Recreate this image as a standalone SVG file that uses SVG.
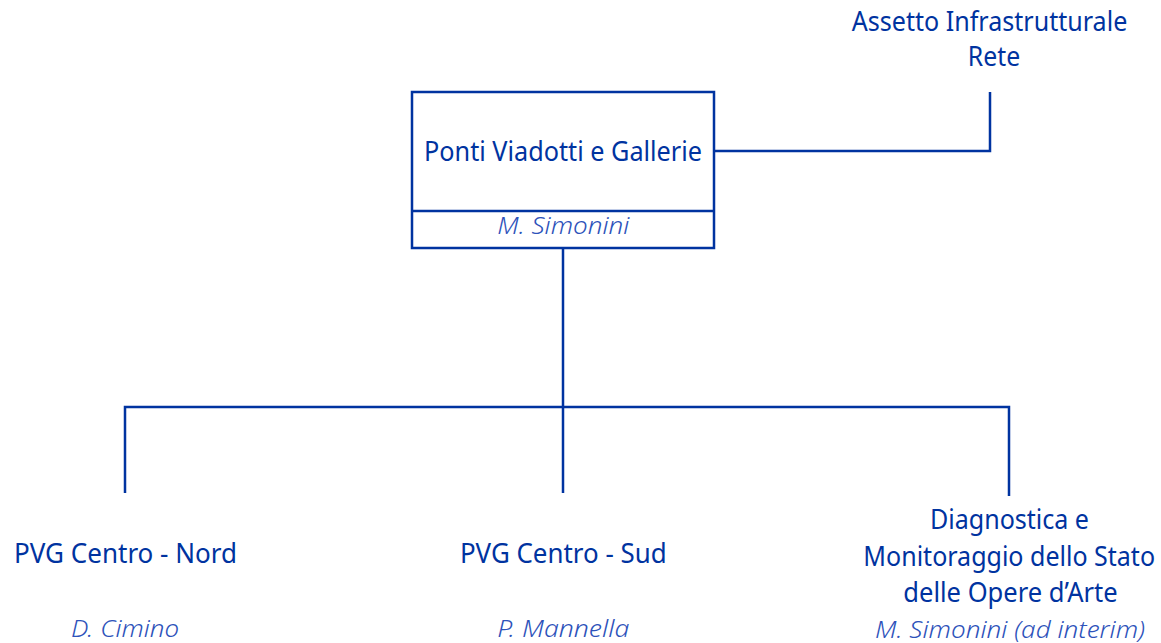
<svg xmlns="http://www.w3.org/2000/svg" width="1161" height="643" viewBox="0 0 1161 643">
<style>
.t{font-family:"Noto Sans","Open Sans","Liberation Sans",sans-serif;font-size:27px;fill:#0033a0;text-anchor:middle}
.n{font-family:"Noto Sans","Open Sans","Liberation Sans",sans-serif;font-size:24px;font-style:italic;font-weight:300;fill:#2d52ba;text-anchor:middle}
.l{fill:none;stroke:#0033a0;stroke-width:2.5}
</style>
<rect width="1161" height="643" fill="#fff"/>
<g id="connectors">
<path class="l" d="M714,151 H990 V92"/>
<path class="l" d="M563,248 V407"/>
<path class="l" d="M125,493 V407 H1009 V496"/>
<path class="l" d="M563,407 V493"/>
</g>
<g id="node-pvg">
<rect class="l" x="412" y="92" width="302" height="156"/>
<line class="l" x1="412" y1="211" x2="714" y2="211"/>
<text class="t" x="563" y="161" textLength="278" lengthAdjust="spacingAndGlyphs">Ponti Viadotti e Gallerie</text>
<text class="n" x="563.3" y="234.3" textLength="132" lengthAdjust="spacingAndGlyphs">M. Simonini</text>
</g>
<g id="node-air">
<text class="t" x="989.5" y="30.7" textLength="275.6" lengthAdjust="spacingAndGlyphs">Assetto Infrastrutturale</text>
<text class="t" x="994" y="65.7" textLength="52.3" lengthAdjust="spacingAndGlyphs">Rete</text>
</g>
<g id="node-nord">
<text class="t" x="125.5" y="562.7" textLength="223" lengthAdjust="spacingAndGlyphs">PVG Centro - Nord</text>
<text class="n" x="125" y="637" textLength="108" lengthAdjust="spacingAndGlyphs">D. Cimino</text>
</g>
<g id="node-sud">
<text class="t" x="563.3" y="562.7" textLength="206.7" lengthAdjust="spacingAndGlyphs">PVG Centro - Sud</text>
<text class="n" x="563.3" y="637" textLength="132" lengthAdjust="spacingAndGlyphs">P. Mannella</text>
</g>
<g id="node-diag">
<text class="t" x="1009.5" y="529.3" textLength="159" lengthAdjust="spacingAndGlyphs">Diagnostica e</text>
<text class="t" x="1009.2" y="566" textLength="291.7" lengthAdjust="spacingAndGlyphs">Monitoraggio dello Stato</text>
<text class="t" x="1010.5" y="601.7" textLength="214.3" lengthAdjust="spacingAndGlyphs">delle Opere d’Arte</text>
<text class="n" x="1010" y="638.3" textLength="270" lengthAdjust="spacingAndGlyphs">M. Simonini (ad interim)</text>
</g>
</svg>
